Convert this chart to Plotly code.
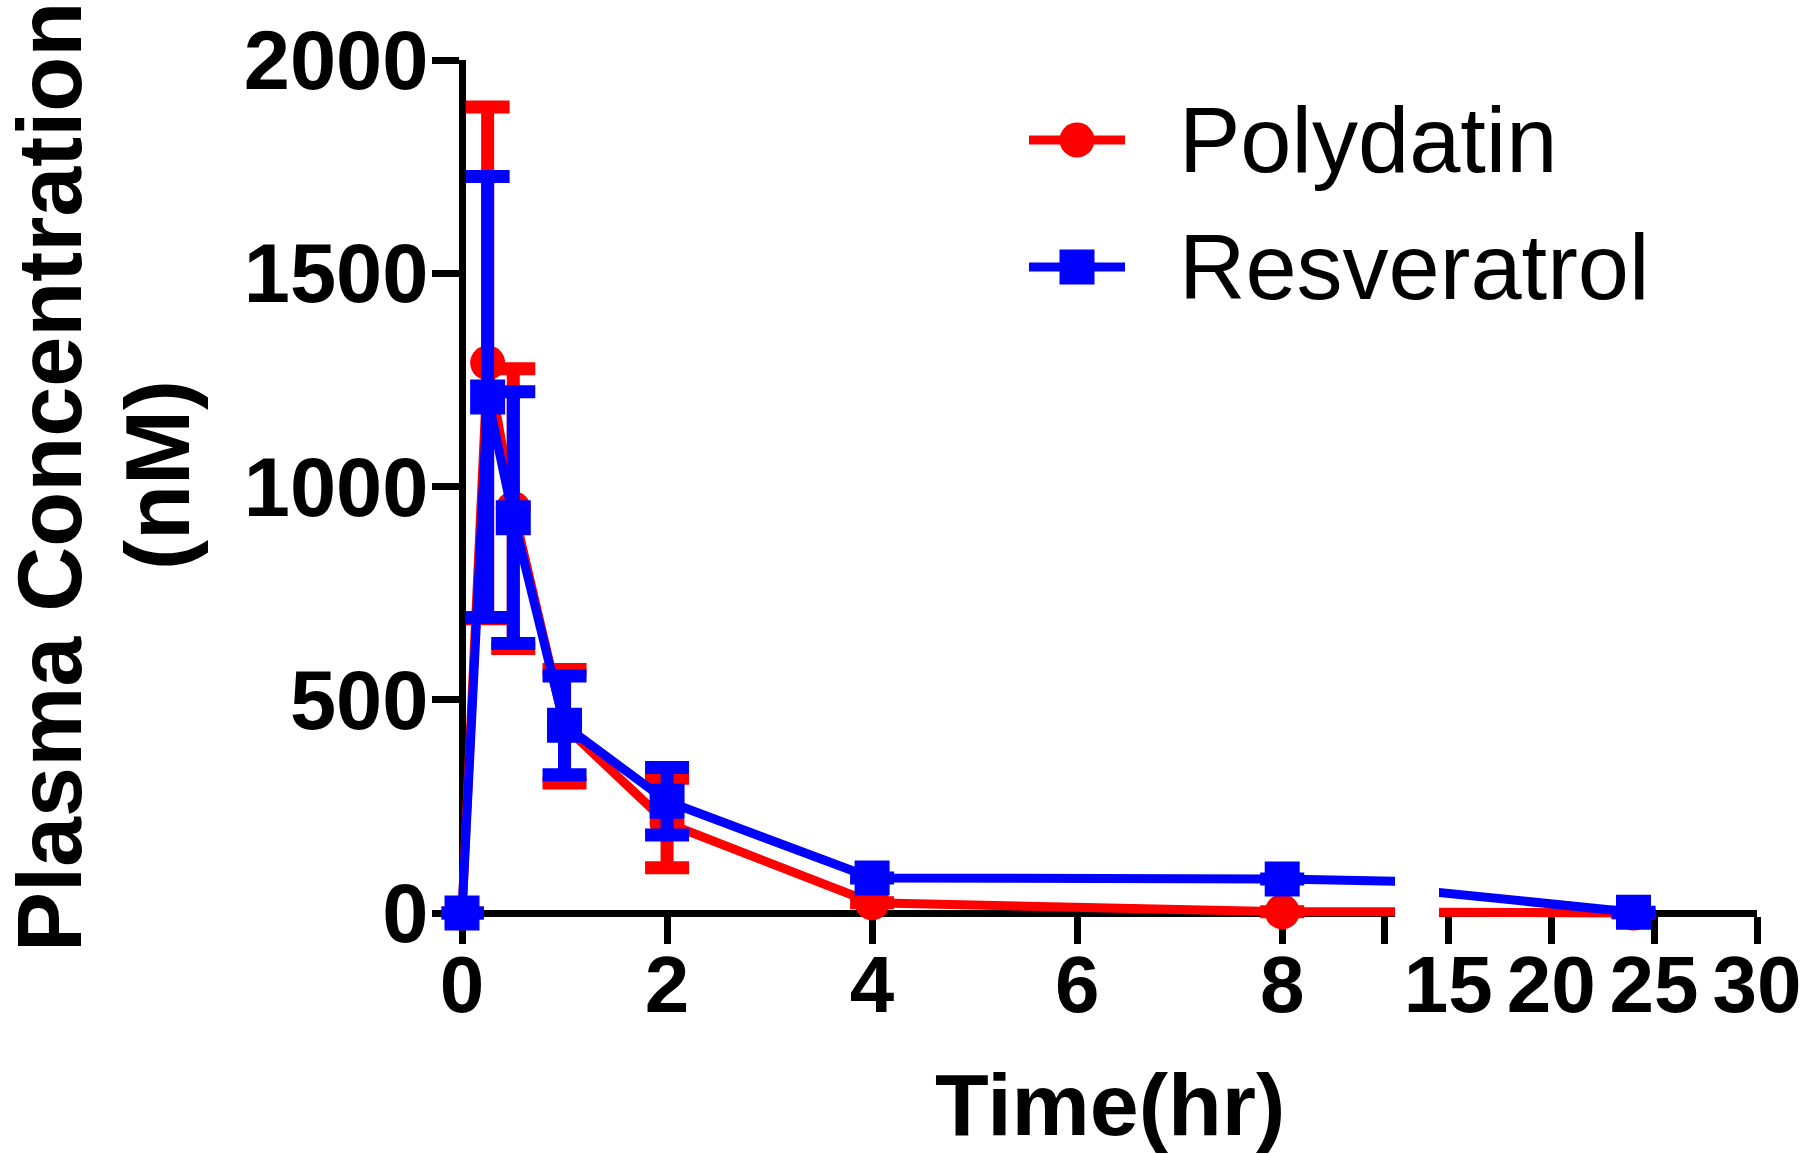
import plotly.graph_objects as go

# ---------------- data ----------------
time_hr = [0, 0.25, 0.5, 1, 2, 4, 8, 24]
polydatin_mean = [0, 1290, 948, 438, 211, 24, 3, 0]
polydatin_sd = [None, 600, 328, 133, 105, None, None, None]
resveratrol_mean = [0, 1210, 927, 440, 262, 82, 80, 2]
resveratrol_sd = [None, 517, 295, 116, 79, None, None, None]

series_names = ["Polydatin", "Resveratrol"]
series_colors = ["#FF0000", "#0000FF"]
series_symbols = ["circle", "square"]

x1_tickvals = [0, 2, 4, 6, 8, 9]
x1_ticktext = ["0", "2", "4", "6", "8", ""]
x2_tickvals = [15, 20, 25, 30]
x2_ticktext = ["15", "20", "25", "30"]
y_tickvals = [0, 500, 1000, 1500, 2000]
y_ticktext = ["0", "500", "1000", "1500", "2000"]

# ---------------- layout helpers ----------------
W, H = 1800, 1154
FONT = "Liberation Sans, Arial, Helvetica, sans-serif"
seg1 = [-0.2, 9.1]
seg2 = [14.55, 30]
yrng = [-40, 2000]


def px_x(p):
    return p / W


def px_y(p):
    return 1 - p / H


means = [polydatin_mean, resveratrol_mean]
sds = [polydatin_sd, resveratrol_sd]

fig = go.Figure()
for name, mean, sd, color, sym in zip(series_names, means, sds, series_colors, series_symbols):
    for xa, rng in (("x", seg1), ("x2", seg2)):
        fig.add_trace(go.Scatter(
            x=time_hr, y=mean, mode="lines", name=name,
            line=dict(color=color, width=9),
            xaxis=xa, yaxis="y", showlegend=False, hoverinfo="skip"))
        idx = [i for i, t in enumerate(time_hr) if rng[0] <= t <= rng[1]]
        fig.add_trace(go.Scatter(
            x=[time_hr[i] for i in idx], y=[mean[i] for i in idx],
            mode="markers", name=name,
            marker=dict(symbol=sym, size=35, color=color, line=dict(width=0)),
            error_y=dict(type="data", array=[sd[i] for i in idx], color=color,
                         thickness=13, width=22, visible=True),
            cliponaxis=False, xaxis=xa, yaxis="y", showlegend=False,
            hoverinfo="skip"))

axis_common = dict(
    showline=True, linecolor="black", linewidth=7,
    ticks="outside", ticklen=27, tickwidth=7, tickcolor="black",
    showgrid=False, zeroline=False, layer="below traces",
    fixedrange=True, automargin=False,
)
xtickfont = dict(family=FONT, size=80, color="black", weight="bold")
ytickfont = dict(family=FONT, size=83, color="black", weight="bold")

fig.update_layout(
    template="none",
    width=W, height=H, autosize=False,
    margin=dict(l=0, r=0, t=0, b=0, pad=0),
    paper_bgcolor="white", plot_bgcolor="white",
    showlegend=False, hovermode=False,
    xaxis=dict(domain=[px_x(441.5), px_x(1395)], range=seg1, anchor="free",
               position=px_y(913), tickmode="array", tickvals=x1_tickvals,
               ticktext=x1_ticktext, tickfont=xtickfont, ticklabelstandoff=-28,
               **axis_common),
    xaxis2=dict(domain=[px_x(1439), px_x(1757)], range=seg2, anchor="free",
                position=px_y(913), tickmode="array", tickvals=x2_tickvals,
                ticktext=x2_ticktext, tickfont=xtickfont, ticklabelstandoff=-28,
                ticklabeloverflow="allow", **axis_common),
    yaxis=dict(domain=[px_y(930.1), px_y(60)], range=yrng, anchor="free",
               position=px_x(462), tickmode="array", tickvals=y_tickvals,
               ticktext=y_ticktext, tickfont=ytickfont, ticklabelstandoff=-13,
               **axis_common),
)

# ---------------- axis titles ----------------
annotations = [
    dict(text="<b>Time(hr)</b>", x=px_x(1110), y=px_y(1104),
         font=dict(family=FONT, size=88, color="black")),
    dict(text="<b>Plasma Concentration</b>", x=px_x(50), y=px_y(477), textangle=-90,
         font=dict(family=FONT, size=90, color="black")),
    dict(text="<b>(nM)</b>", x=px_x(158), y=px_y(475), textangle=-90,
         font=dict(family=FONT, size=90, color="black")),
]

# ---------------- legend (drawn manually for large glyphs) ----------------
legend_rows_y = [140, 267]
shapes = []
for name, color, sym, ry in zip(series_names, series_colors, series_symbols, legend_rows_y):
    shapes.append(dict(type="line", xref="paper", yref="paper",
                       x0=px_x(1029), x1=px_x(1125), y0=px_y(ry), y1=px_y(ry),
                       line=dict(color=color, width=9)))
    shapes.append(dict(type="circle" if sym == "circle" else "rect",
                       xref="paper", yref="paper",
                       x0=px_x(1077 - 17.5), x1=px_x(1077 + 17.5),
                       y0=px_y(ry + 17.5), y1=px_y(ry - 17.5),
                       fillcolor=color, line=dict(width=0)))
    annotations.append(dict(text=name, x=px_x(1177), y=px_y(ry), xanchor="left",
                            font=dict(family=FONT, size=92, color="black")))

for a in annotations:
    a.setdefault("xref", "paper")
    a.setdefault("yref", "paper")
    a.setdefault("showarrow", False)
    a.setdefault("xanchor", "center")
    a.setdefault("yanchor", "middle")

fig.update_layout(annotations=annotations, shapes=shapes)

fig.write_html(
    "out.html",
    config={"displayModeBar": False, "staticPlot": True},
    post_script="document.body.style.margin='0';document.body.style.overflow='hidden';",
)
